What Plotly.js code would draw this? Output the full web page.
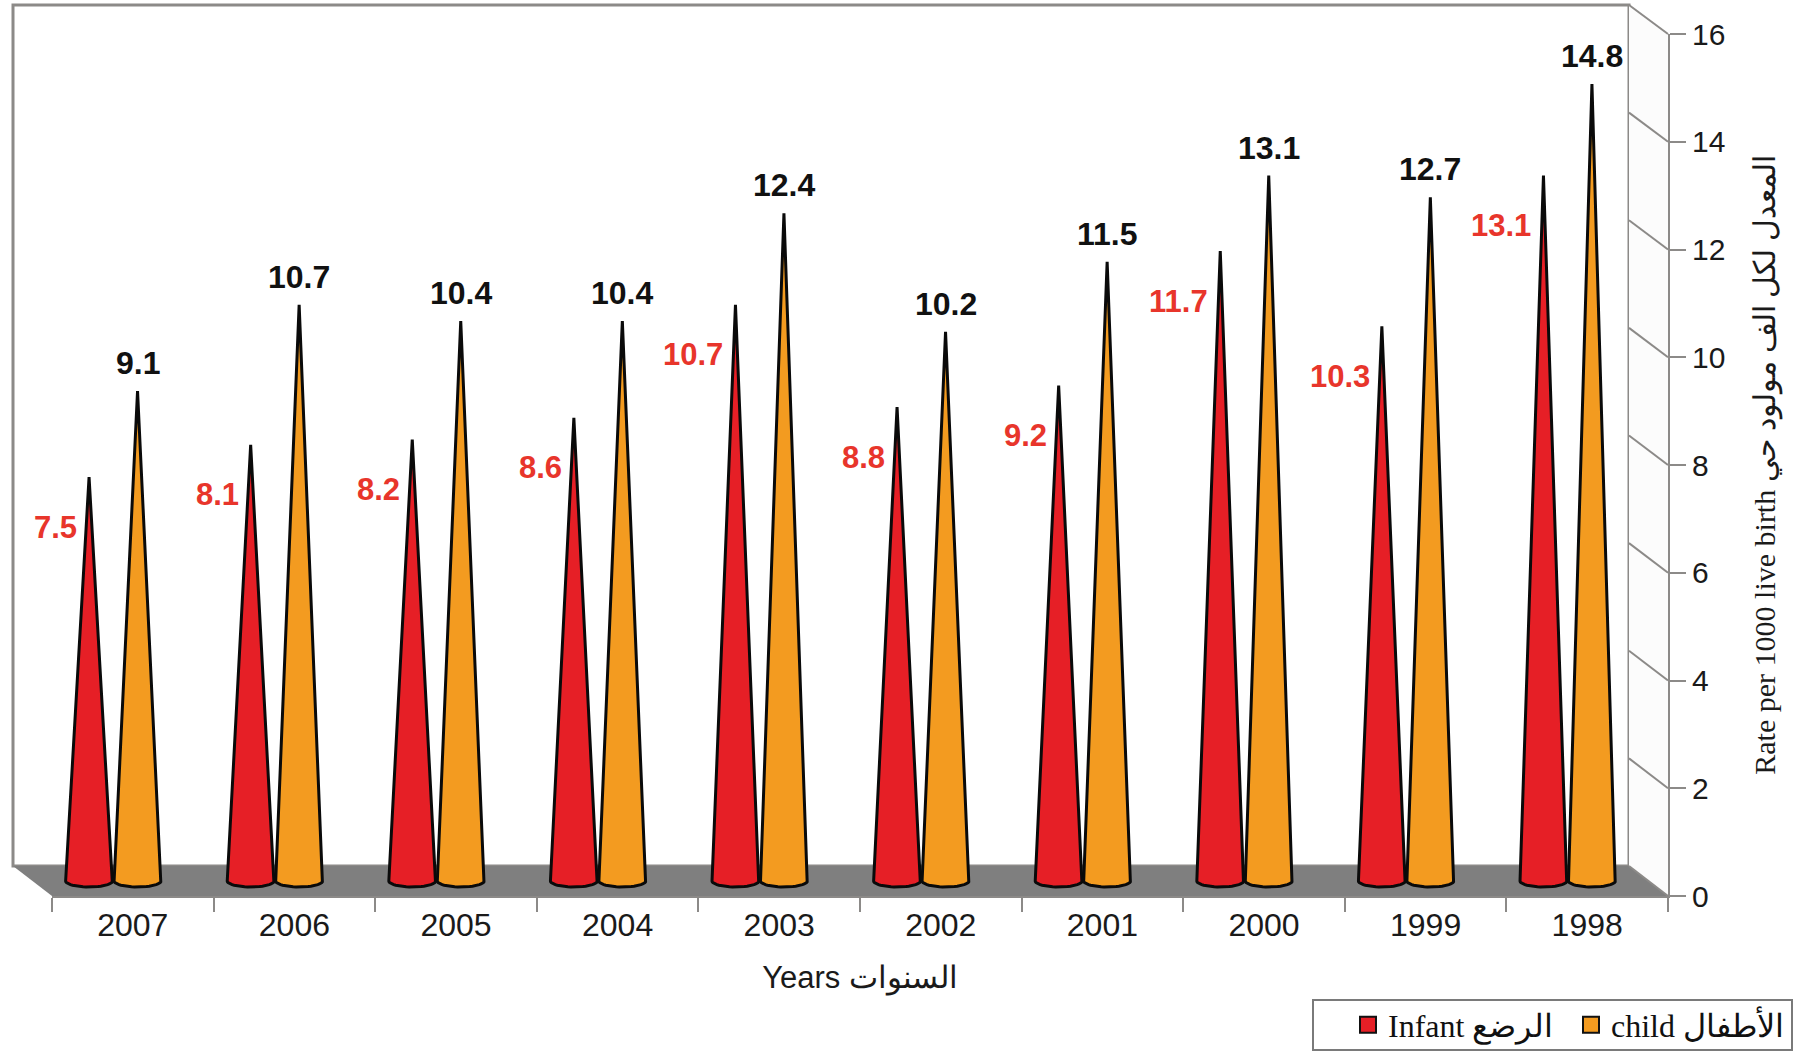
<!DOCTYPE html>
<html><head><meta charset="utf-8">
<script src="https://cdn.plot.ly/plotly-3.0.1.min.js"></script>
<style>html,body{margin:0;padding:0;background:#fff}#chart{width:1796px;height:1056px}</style>
</head><body><div id="chart"></div>
<script>
const years = ['2007','2006','2005','2004','2003','2002','2001','2000','1999','1998'];
const infant = [7.5, 8.1, 8.2, 8.6, 10.7, 8.8, 9.2, 11.7, 10.3, 13.1];
const child = [9.1, 10.7, 10.4, 10.4, 12.4, 10.2, 11.5, 13.1, 12.7, 14.8];
const yTicks = [0, 2, 4, 6, 8, 10, 12, 14, 16];
const seriesNames = ['Infant الرضع', 'child الأطفال'];
const seriesColors = ['#e61f26', '#f39b20'];
const xTitle = 'Years السنوات';
const yTitle = 'Rate per 1000 live birth المعدل لكل الف مولود حي';

const W = 1796, H = 1056;
const back = {l: 13, r: 1629, b: 866, t: 5};
const front = {l: 52, r: 1668, b: 896, t: 34};
const mid = {l: (back.l + front.l) / 2, r: (back.r + front.r) / 2, b: (back.b + front.b) / 2, t: (back.t + front.t) / 2};
const yMax = 16, yPad = 0.5;
const unit = (mid.b - mid.t) / yMax;
const px = v => v / W, py = v => 1 - v / H;
const backY = v => back.b - (back.b - back.t) * v / yMax;
const frontY = v => front.b - (front.b - front.t) * v / yMax;

const off = [-0.15, 0.15], hw = 0.145, bEll = 6 / unit;
const series = [infant, child];
const traces = [];
years.forEach((yr, i) => {
  series.forEach((arr, s) => {
    const cx = i + off[s], v = arr[i];
    const xs = [cx, cx + hw], ys = [v, 0];
    for (let k = 1; k <= 24; k++) {
      const t = Math.PI * k / 24;
      xs.push(cx + hw * Math.cos(t));
      ys.push(-bEll * Math.sin(t));
    }
    xs.push(cx); ys.push(v);
    traces.push({type: 'scatter', x: xs, y: ys, xaxis: 'x2', yaxis: 'y2', mode: 'lines',
      fill: 'toself', fillcolor: seriesColors[s], line: {color: '#0a0a0a', width: 3},
      hoverinfo: 'skip', showlegend: false});
  });
});
// front category axis carrier
traces.push({type: 'scatter', x: years, y: child, xaxis: 'x3', yaxis: 'y3', mode: 'markers',
  marker: {opacity: 0}, hoverinfo: 'skip', showlegend: false});
// legend entries
series.forEach((arr, s) => {
  traces.push({type: 'scatter', x: [null], y: [null], xaxis: 'x3', yaxis: 'y3', mode: 'markers',
    name: seriesNames[s], marker: {symbol: 'square', size: 16, color: seriesColors[s], line: {color: '#111', width: 2}}});
});

const grey = '#8c8a88';
const shapes = [
  {type: 'rect', xref: 'paper', yref: 'paper', x0: px(back.l), x1: px(back.r), y0: py(back.b), y1: py(back.t),
    fillcolor: '#ffffff', line: {color: grey, width: 3}, layer: 'below'},
  {type: 'path', xref: 'paper', yref: 'paper', layer: 'below', fillcolor: '#fcfcfc', line: {width: 0},
    path: `M${px(back.r)},${py(back.t)} L${px(front.r)},${py(front.t)} L${px(front.r)},${py(front.b)} L${px(back.r)},${py(back.b)} Z`},
  {type: 'path', xref: 'paper', yref: 'paper', layer: 'below', fillcolor: '#7f7f7f', line: {width: 0},
    path: `M${px(back.l)},${py(back.b)} L${px(back.r)},${py(back.b)} L${px(front.r)},${py(front.b)} L${px(front.l)},${py(front.b)} Z`},
  {type: 'line', xref: 'paper', yref: 'paper', x0: px(front.r), x1: px(front.r), y0: py(front.b), y1: py(front.b + 14),
    line: {color: grey, width: 2}},
  {type: 'rect', xref: 'paper', yref: 'paper', x0: px(1313), x1: px(1792), y0: py(1050), y1: py(1000),
    fillcolor: '#ffffff', line: {color: '#7a7a7a', width: 2}, layer: 'below'}
];
yTicks.forEach(v => {
  shapes.push({type: 'line', xref: 'paper', yref: 'paper', layer: 'below',
    x0: px(back.r), y0: py(backY(v)), x1: px(front.r), y1: py(frontY(v)), line: {color: grey, width: 2}});
});

const annotations = [];
years.forEach((yr, i) => {
  annotations.push({xref: 'x2', yref: 'y2', x: i + off[1], y: child[i], text: '<b>' + child[i].toFixed(1) + '</b>',
    showarrow: false, yanchor: 'bottom', yshift: 8, font: {size: 32, color: '#111'}});
  annotations.push({xref: 'x2', yref: 'y2', x: i + off[0], y: infant[i], text: '<b>' + infant[i].toFixed(1) + '</b>',
    showarrow: false, xanchor: 'right', yanchor: 'middle', xshift: -10, yshift: -50, font: {size: 31, color: '#e8352b'}});
});

const layout = {
  width: W, height: H, margin: {l: 0, r: 0, t: 0, b: 0, autoexpand: false},
  paper_bgcolor: '#ffffff', plot_bgcolor: 'rgba(0,0,0,0)',
  font: {family: 'Liberation Sans, Arial, sans-serif', color: '#1a1a1a'},
  showlegend: true,
  xaxis: {domain: [px(back.l), px(back.r)], range: [-0.5, 9.5], visible: false, fixedrange: true},
  yaxis: {domain: [py(back.b), py(back.t)], range: [0, yMax], tickvals: yTicks, showticklabels: false, ticks: '',
    showline: false, zeroline: false, showgrid: true, gridcolor: grey, gridwidth: 2, fixedrange: true},
  xaxis2: {domain: [px(mid.l), px(mid.r)], range: [-0.5, 9.5], visible: false, anchor: 'y2', fixedrange: true},
  yaxis2: {domain: [py(mid.b + yPad * unit), py(mid.t)], range: [-yPad, yMax], visible: false, anchor: 'x2', fixedrange: true},
  xaxis3: {domain: [px(front.l), px(front.r)], type: 'category', categoryorder: 'array', categoryarray: years,
    range: [-0.5, 9.5], anchor: 'y3', tickson: 'boundaries', ticks: 'outside', ticklen: 14, tickwidth: 2,
    tickcolor: grey, showline: true, linecolor: grey, linewidth: 2, showgrid: false, zeroline: false,
    tickfont: {size: 32, color: '#1a1a1a'}, title: {text: xTitle, font: {size: 31, color: '#1a1a1a'}, standoff: 24}, fixedrange: true},
  yaxis3: {domain: [py(front.b), py(front.t)], range: [0, yMax], anchor: 'x3', side: 'right', tickvals: yTicks,
    ticks: 'outside', ticklen: 16, tickwidth: 2, tickcolor: grey, showline: true, linecolor: grey, linewidth: 2,
    showgrid: false, zeroline: false, tickfont: {size: 30, color: '#1a1a1a'},
    title: {text: yTitle, font: {family: 'Liberation Serif, serif', size: 30, color: '#1a1a1a'}, standoff: 30}, fixedrange: true},
  legend: {orientation: 'h', x: px(1348), xanchor: 'left', y: py(1025), yanchor: 'middle',
    bgcolor: 'rgba(0,0,0,0)', borderwidth: 0, font: {family: 'Liberation Serif, serif', size: 32, color: '#111'},
    itemwidth: 30, entrywidth: 178, traceorder: 'normal'},
  shapes: shapes,
  annotations: annotations
};
Plotly.newPlot('chart', traces, layout, {displayModeBar: false, staticPlot: true});
</script></body></html>
